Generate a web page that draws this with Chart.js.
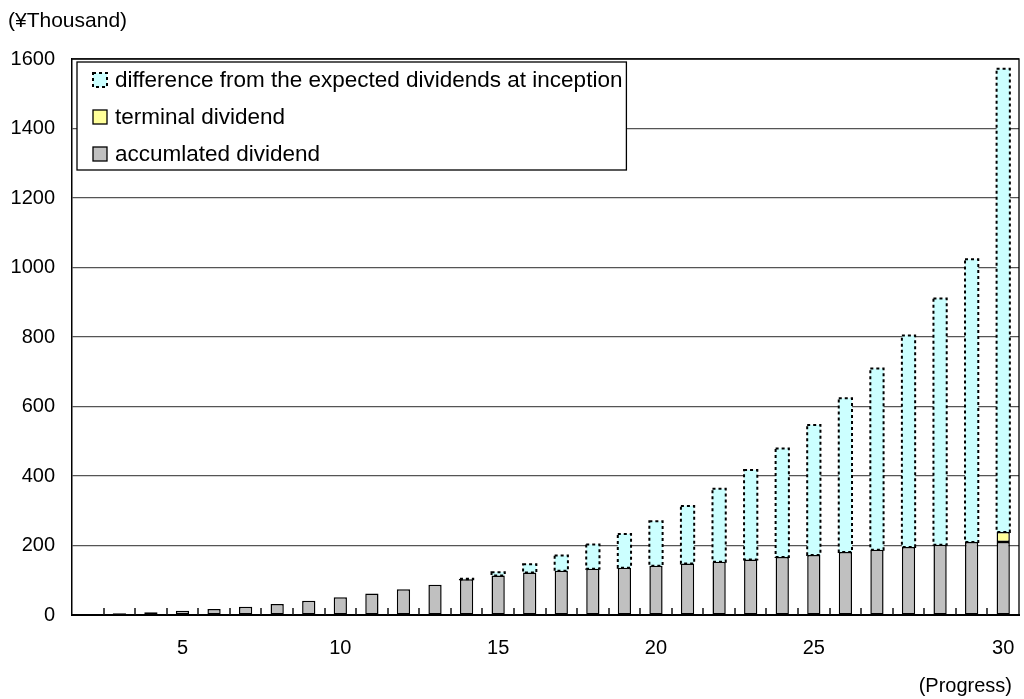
<!DOCTYPE html>
<html>
<head>
<meta charset="utf-8">
<script src="https://cdn.jsdelivr.net/npm/chart.js@4.4.1/dist/chart.umd.min.js"></script>
<style>
  html, body { margin: 0; padding: 0; background: #fff; }
  #wrap { position: relative; width: 1024px; height: 699px; }
</style>
</head>
<body>
<div id="wrap"><canvas id="chart"></canvas></div>
<script>
// Progress points (30 periods); only some carry a printed label
const progressLabels = ['', '', '', '5', '', '', '', '', '10', '', '', '', '', '15', '', '', '', '', '20', '', '', '', '', '25', '', '', '', '', '', '30'];

// Values in thousands of yen
const accumulatedDividend = [2, 5, 8, 12, 17, 24, 32, 41, 51, 62, 74, 87, 103, 114, 122, 127, 133, 136, 142, 148, 153, 160, 167, 173, 181, 188, 196, 202, 210, 210];
const terminalDividend = [0, 0, 0, 0, 0, 0, 0, 0, 0, 0, 0, 0, 0, 0, 0, 0, 0, 0, 0, 0, 0, 0, 0, 0, 0, 0, 0, 0, 0, 29];
const differenceFromExpected = [0, 0, 0, 0, 0, 0, 0, 0, 0, 0, 0, 0, 1, 9, 24, 44, 70, 97, 128, 166, 210, 257, 312, 374, 443, 521, 608, 709, 814, 1333];

const seriesNames = ['accumlated dividend', 'terminal dividend', 'difference from the expected dividends at inception'];
const yMin = 0, yMax = 1600, yStep = 200;
const unitLabel = '(¥Thousand)';
const progressTitle = '(Progress)';

const NUM_FONT = "'Liberation Sans Narrow', 'Liberation Sans', Arial, sans-serif";
const TEXT_FONT = "'Liberation Sans', Arial, sans-serif";

// Dotted outline around the "difference" segments
const dottedOutline = {
  id: 'dottedOutline',
  afterDatasetsDraw(chart) {
    const ctx = chart.ctx;
    const meta = chart.getDatasetMeta(2);
    ctx.save();
    ctx.setLineDash([3, 3]);
    ctx.lineWidth = 2;
    ctx.strokeStyle = '#000';
    meta.data.forEach((bar, i) => {
      if (!differenceFromExpected[i]) return;
      const p = bar.getProps(['x', 'y', 'base', 'width'], true);
      ctx.strokeRect(p.x - p.width / 2, p.y, p.width, p.base - p.y);
    });
    ctx.restore();
  }
};

// Plot frame, inward category ticks, legend box and free text labels
const decorations = {
  id: 'decorations',
  afterDraw(chart) {
    const ctx = chart.ctx;
    const area = chart.chartArea;
    const xs = chart.scales.x;

    ctx.save();
    // inward tick marks between categories
    ctx.strokeStyle = '#111';
    ctx.lineWidth = 1.5;
    for (let i = 1; i < progressLabels.length; i++) {
      const x = Math.round((xs.getPixelForValue(i - 1) + xs.getPixelForValue(i)) / 2);
      ctx.beginPath();
      ctx.moveTo(x, area.bottom);
      ctx.lineTo(x, area.bottom - 7);
      ctx.stroke();
    }

    // top and right edges of the plot frame
    ctx.strokeStyle = '#000';
    ctx.lineWidth = 1.3;
    ctx.beginPath();
    ctx.moveTo(area.left, area.top);
    ctx.lineTo(area.right, area.top);
    ctx.lineTo(area.right, area.bottom);
    ctx.stroke();

    // legend (drawn top-down, reversed stacking order)
    const ds = chart.data.datasets;
    const order = [2, 1, 0];
    ctx.font = '22.5px ' + TEXT_FONT;
    let maxW = 0;
    order.forEach(k => { maxW = Math.max(maxW, ctx.measureText(ds[k].label).width); });
    const bx = area.left + 5, by = area.top + 3;
    const bw = 38 + maxW + 4, bh = 108;
    ctx.fillStyle = '#fff';
    ctx.fillRect(bx, by, bw, bh);
    ctx.strokeStyle = '#000';
    ctx.lineWidth = 1.3;
    ctx.strokeRect(bx, by, bw, bh);
    order.forEach((k, row) => {
      const cy = by + 18 + row * 37;
      const sx = bx + 16, sy = cy - 7;
      ctx.fillStyle = ds[k].backgroundColor;
      ctx.fillRect(sx, sy, 14, 14);
      ctx.save();
      ctx.strokeStyle = '#000';
      if (k === 2) { ctx.setLineDash([3, 3]); ctx.lineWidth = 2; } else { ctx.lineWidth = 1.3; }
      ctx.strokeRect(sx, sy, 14, 14);
      ctx.restore();
      ctx.fillStyle = '#000';
      ctx.textAlign = 'left';
      ctx.textBaseline = 'middle';
      ctx.fillText(ds[k].label, bx + 38, cy + 1);
    });

    // unit and axis captions
    ctx.fillStyle = '#000';
    ctx.font = '21px ' + TEXT_FONT;
    ctx.textAlign = 'left';
    ctx.textBaseline = 'middle';
    ctx.fillText(unitLabel, 8, 21);
    ctx.font = '20px ' + TEXT_FONT;
    ctx.textAlign = 'right';
    ctx.fillText(progressTitle, 1012, 686);
    ctx.restore();
  }
};

new Chart(document.getElementById('chart'), {
  type: 'bar',
  data: {
    labels: progressLabels,
    datasets: [
      {
        label: seriesNames[0],
        data: accumulatedDividend,
        backgroundColor: '#C0C0C0',
        borderColor: '#000',
        borderWidth: 1.5,
        borderSkipped: false
      },
      {
        label: seriesNames[1],
        data: terminalDividend,
        backgroundColor: '#FFFF99',
        borderColor: '#000',
        borderWidth: ctx => (ctx.raw ? 1.5 : 0),
        borderSkipped: false
      },
      {
        label: seriesNames[2],
        data: differenceFromExpected,
        backgroundColor: '#CCFFFF',
        borderWidth: 0
      }
    ]
  },
  options: {
    responsive: true,
    maintainAspectRatio: false,
    animation: false,
    devicePixelRatio: 1,
    layout: { padding: { top: 59, right: 5, bottom: 0, left: 0 } },
    datasets: { bar: { categoryPercentage: 1, barPercentage: 0.42 } },
    plugins: {
      legend: { display: false },
      tooltip: { enabled: false },
      title: { display: false }
    },
    scales: {
      x: {
        stacked: true,
        grid: { display: false, drawTicks: false },
        border: { display: true, color: '#000', width: 2 },
        ticks: {
          autoSkip: false,
          maxRotation: 0,
          padding: 21,
          color: '#000',
          font: { family: NUM_FONT, size: 20 }
        },
        afterFit(scale) {
          scale.height = 84;
          scale.paddingLeft = 0;
          scale.paddingRight = 0;
        }
      },
      y: {
        stacked: true,
        min: yMin,
        max: yMax,
        ticks: {
          stepSize: yStep,
          padding: 17,
          color: '#000',
          font: { family: NUM_FONT, size: 20 },
          callback: v => String(v)
        },
        grid: { color: '#555', lineWidth: 1.2, drawTicks: false },
        border: { display: true, color: '#000', width: 1.5 },
        afterFit(scale) {
          scale.width = 72;
          scale.paddingTop = 0;
          scale.paddingBottom = 0;
        }
      }
    }
  },
  plugins: [dottedOutline, decorations]
});
</script>
</body>
</html>
